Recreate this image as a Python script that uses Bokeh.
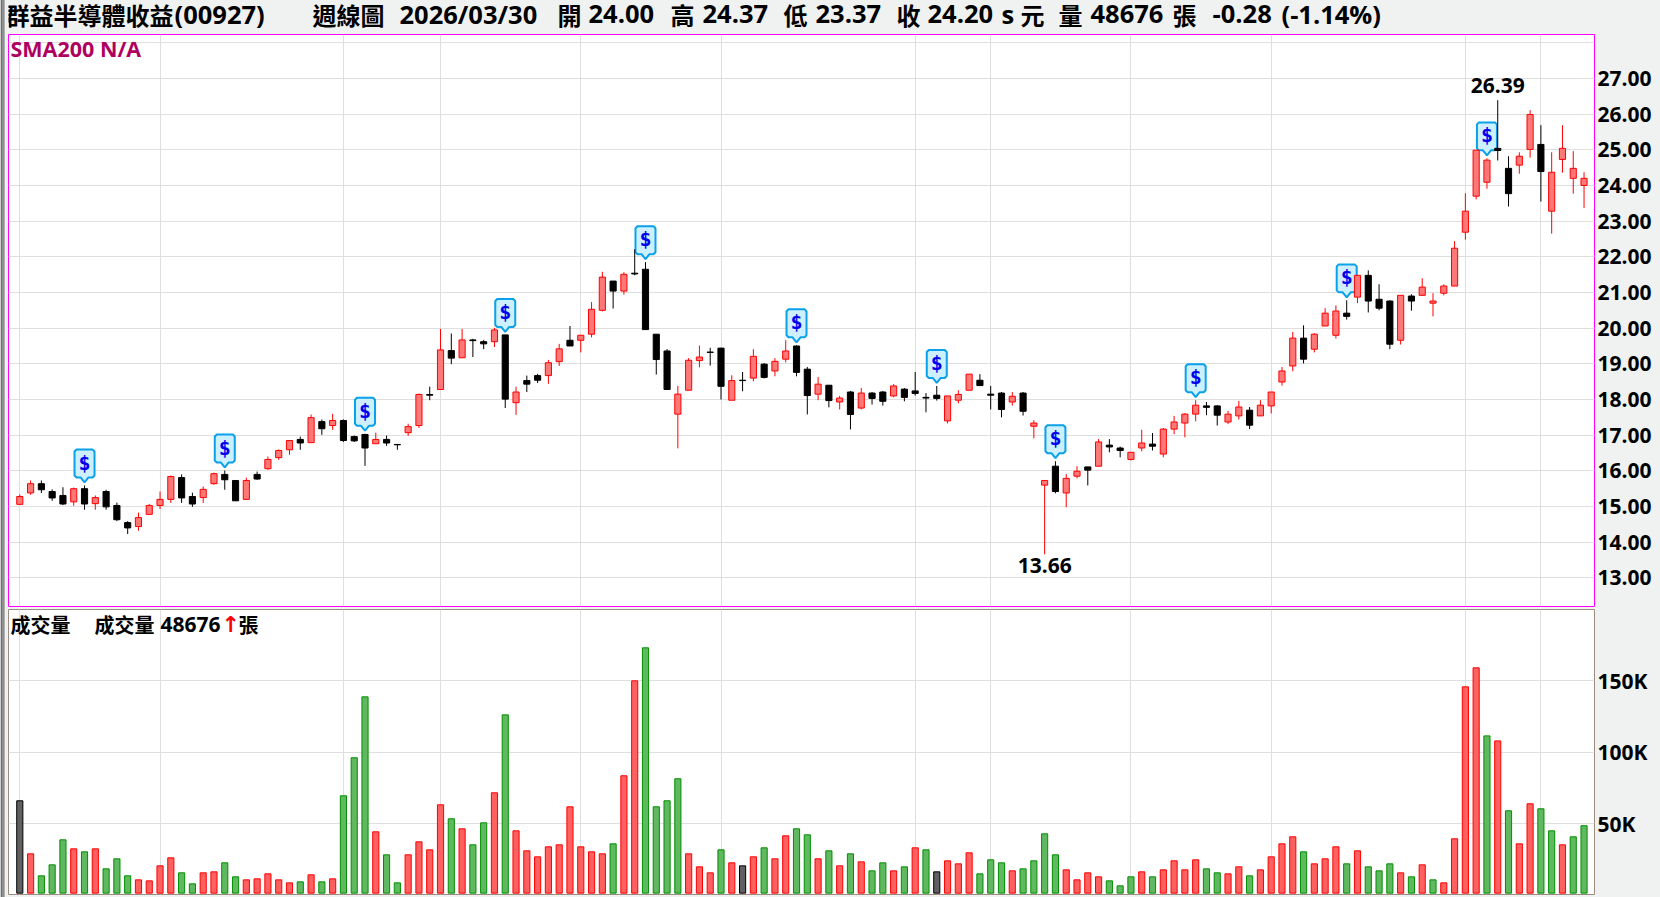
from bokeh.plotting import figure
from bokeh.layouts import column
from bokeh.models import ColumnDataSource, FixedTicker, Grid, Label, NumeralTickFormatter, Range1d
from bokeh.core.properties import value
from bokeh.embed import file_html
from bokeh.resources import INLINE

candle_high = [15.34,15.73,15.73,15.48,15.54,15.53,15.59,15.31,15.47,15.11,14.59,14.83,15.07,15.42,15.87,15.90,15.39,15.56,15.95,16.01,15.73,15.81,15.98,16.40,16.60,16.85,16.96,17.58,17.44,17.60,17.44,16.99,17.04,17.07,16.99,16.74,17.32,18.17,18.36,19.98,19.85,19.98,19.70,19.67,20.01,19.81,18.36,18.67,18.72,19.11,19.56,
20.06,19.80,20.73,21.58,21.32,21.57,22.21,21.85,19.83,19.41,18.38,19.16,19.51,19.45,19.45,18.68,18.77,19.41,19.02,19.16,19.66,19.52,18.91,18.63,18.40,18.10,18.24,18.32,18.21,18.24,18.43,18.32,18.77,18.18,18.38,18.10,18.26,18.71,18.71,18.38,18.21,18.21,18.21,17.42,15.74,16.27,15.91,16.13,16.11,16.89,16.89,
16.68,16.53,17.15,17.06,17.20,17.54,17.62,17.98,17.93,17.84,17.68,17.96,17.79,17.98,18.21,18.91,19.89,20.08,19.86,20.56,20.64,20.78,21.48,21.62,21.23,20.78,20.92,20.95,21.40,20.98,21.23,22.44,23.78,24.99,24.76,26.39,24.82,24.93,26.11,25.69,24.93,25.69,24.96,24.37]
candle_body_top = [15.28,15.64,15.64,15.42,15.31,15.50,15.50,15.25,15.42,15.03,14.55,14.69,15.03,15.20,15.84,15.81,15.28,15.48,15.92,15.90,15.73,15.73,15.90,16.32,16.57,16.85,16.88,17.49,17.38,17.41,17.41,16.96,17.02,16.88,16.88,16.74,17.24,18.14,18.14,19.39,19.37,19.67,19.67,19.62,19.95,19.81,18.21,18.53,18.67,19.03,19.42,
19.66,19.80,20.53,21.43,21.32,21.51,21.54,21.65,19.83,19.36,18.15,19.10,19.19,19.33,19.44,18.53,18.54,19.21,18.99,19.07,19.36,19.50,18.85,18.43,18.40,18.04,18.21,18.18,18.18,18.21,18.38,18.29,18.24,18.06,18.12,18.10,18.14,18.71,18.54,18.15,18.18,18.09,18.18,17.34,15.73,16.13,15.79,15.99,16.11,16.81,16.72,
16.64,16.52,16.78,16.75,17.17,17.37,17.59,17.84,17.82,17.82,17.59,17.79,17.70,17.84,18.21,18.80,19.72,19.72,19.83,20.42,20.48,20.42,21.48,21.48,20.81,20.76,20.92,20.90,21.15,20.76,21.18,22.24,23.28,24.99,24.71,25.04,24.48,24.82,25.99,25.15,24.37,25.04,24.48,24.20]
candle_body_bottom = [15.06,15.38,15.47,15.24,15.07,15.13,15.07,15.08,14.99,14.63,14.40,14.44,14.78,15.03,15.20,15.24,15.07,15.25,15.64,15.75,15.16,15.20,15.77,16.06,16.37,16.59,16.78,16.79,17.18,17.27,16.85,16.84,16.64,16.76,16.78,16.73,17.07,17.27,18.12,18.28,19.16,19.17,19.65,19.56,19.62,18.01,17.91,18.43,18.54,18.67,19.06,
19.50,19.66,19.83,20.50,21.04,21.04,21.52,19.96,19.12,18.28,17.59,18.26,19.09,19.32,18.37,17.98,18.53,18.60,18.62,18.80,19.13,18.76,18.11,18.15,17.97,17.93,17.58,17.76,18.03,17.95,18.10,18.06,18.17,18.04,18.03,17.40,17.98,18.26,18.39,18.12,17.72,17.93,17.67,17.25,15.60,15.42,15.38,15.85,16.02,16.13,16.67,
16.57,16.32,16.64,16.69,16.47,17.17,17.34,17.59,17.78,17.56,17.37,17.54,17.28,17.54,17.82,18.49,18.94,19.13,19.41,20.06,19.80,20.33,20.87,20.76,20.56,19.55,19.66,20.76,20.92,20.70,20.98,21.18,22.69,23.70,24.09,24.98,23.77,24.57,25.01,24.39,23.28,24.73,24.20,24.00]
candle_low = [15.06,15.33,15.38,15.16,15.04,15.02,14.91,14.91,14.91,14.59,14.23,14.32,14.78,14.93,15.10,15.10,14.99,15.10,15.61,15.47,15.16,15.20,15.75,16.03,16.31,16.45,16.59,16.79,17.01,17.15,16.81,16.81,16.14,16.76,16.70,16.59,16.98,17.20,17.98,18.28,18.99,19.17,19.19,19.41,19.47,17.76,17.57,18.21,18.46,18.44,18.94,
19.50,19.32,19.74,20.47,20.55,20.94,21.48,19.96,18.70,18.28,16.63,18.26,18.90,18.95,18.00,17.98,18.23,18.51,18.59,18.65,19.04,18.65,17.58,17.98,17.78,17.72,17.16,17.72,17.86,17.83,18.06,17.95,18.11,17.64,17.97,17.33,17.89,18.26,18.39,17.72,17.50,17.83,17.55,16.91,13.66,15.37,14.98,15.79,15.59,16.13,16.52,
16.38,16.29,16.55,16.57,16.38,17.03,16.94,17.39,17.56,17.27,17.31,17.44,17.17,17.54,17.61,18.39,18.79,19.01,19.32,20.06,19.71,20.24,20.70,20.44,20.50,19.41,19.54,20.49,20.92,20.33,20.92,21.18,22.48,23.61,23.91,24.70,23.41,24.33,24.78,23.55,22.65,24.36,23.77,23.37]
candle_dir = ("rrkkkrkrkk" "krrrrkkrrk" "krkrrrkrkr" "kkkrkkrrkr" "krkkrkrkkr"
              "rkrrrkrkkk" "krrrkkrkrk" "rrkkrkrkrk" "krkkkkrrrk" "kkrkrrkrrk"
              "rkkrrkrrrr" "kkrrkrrrrk" "rrrkrkkkrk" "rrrrrrrkkr" "rkrrrr")
volume_k = [66.1,29.0,13.6,21.3,38.8,32.5,30.4,32.5,18.5,25.5,13.6,10.8,10.1,20.6,26.2,15.7,8.0,15.7,16.4,22.7,12.9,10.8,11.5,15.0,10.8,8.7,9.4,14.3,9.4,11.5,69.6,96.2,138.8,44.4,28.3,8.7,28.3,37.4,31.8,63.3,53.5,46.5,35.3,50.7,71.7,126.2,45.1,31.1,26.9,33.9,35.3,
61.9,33.9,30.4,29.0,36.0,83.6,150.0,173.1,61.9,66.1,81.5,29.0,19.9,15.7,31.8,22.7,20.6,26.9,33.2,25.5,41.6,46.5,42.3,25.5,31.1,20.6,29.0,23.4,17.1,22.7,17.1,19.9,33.2,31.8,16.4,24.1,22.0,29.7,15.0,24.8,22.7,17.1,18.5,24.1,43.0,28.3,17.8,10.8,15.7,12.9,
10.1,6.6,12.9,16.4,12.9,17.8,24.1,17.8,24.8,18.5,15.7,15.0,19.9,13.6,17.8,26.9,36.0,40.9,30.4,22.0,25.5,33.9,22.0,31.1,19.9,17.1,22.0,15.7,12.9,21.3,10.8,8.7,39.5,145.8,159.1,111.5,108.0,59.1,36.0,64.0,60.5,45.1,35.3,40.9,48.676]
volume_dir = ("xrgggrgrgg" "grrrrggrrg" "grrrrrgrgr" "gggrggrrrr" "grggrgrrrr"
              "rrrrrgrrgg" "ggrrrgrxrg" "rrggrgrgrg" "grgrgxrrrg" "ggrggggrrr"
              "rgggrgrrrr" "ggrrgrrrrg" "rrrgrgggrg" "rgrrrrgrgr" "rggrgg")
dividend_idx = [6,19,32,45,58,72,85,96,109,123,136]
price_ticks = list(range(13,28))
price_grid = list(range(13,29))
volume_ticks = [50,100,150]
volume_labels = {50:"50K",100:"100K",150:"150K"}
x_grid_idx = [0,13,30,39,52,65,83,90,103,116,134,141]
title_parts = [("群益半導體收益",6),("(00927)",175),("週線圖",313),("2026/03/30",400),("開",558),("24.00",589),("高",671),("24.37",703),
               ("低",784),("23.37",816),("收",897),("24.20",928),("s",1002),("元",1021),("量",1059),("48676",1091),("張",1173),
               ("-0.28",1213),("(-1.14%)",1282)]

CJK = "Noto Sans CJK TC"
LATIN = "Open Sans"
BG = "#f0f2f2"
PX_X = 10.788   # pixels per candle
PX_Y = 35.73    # pixels per price unit
xr = (-1.047, 145.97)

n = len(candle_high)
xs = list(range(n))

p0 = figure(width=1660, height=34, output_backend="svg", toolbar_location=None,
            x_range=Range1d(0, 1660), y_range=Range1d(0, 34), x_axis_location=None, y_axis_location=None,
            min_border=0, min_border_top=0, min_border_bottom=0, min_border_left=0, min_border_right=0,
            background_fill_color=None, border_fill_color=None, outline_line_color=None)
p0.grid.visible = False
p1 = figure(width=1660, height=574, output_backend="svg", toolbar_location=None,
            x_range=Range1d(*xr), y_range=Range1d(12.197, 28.232), y_axis_location="right",
            x_axis_location=None, min_border_top=0, min_border_bottom=2, min_border_left=8, min_border_right=66,
            background_fill_color="white", border_fill_color=None, outline_line_color="#ff00ff", outline_line_width=1)
p2 = figure(width=1660, height=289, output_backend="svg", toolbar_location=None,
            x_range=Range1d(*xr), y_range=Range1d(0.56, 199.9), y_axis_location="right",
            x_axis_location=None, min_border_top=1, min_border_bottom=3, min_border_left=8, min_border_right=66,
            background_fill_color="white", border_fill_color=None, outline_line_color="#9c8c80", outline_line_width=1)

for p, ticks, grid_vals in ((p1, price_ticks, price_grid), (p2, volume_ticks, volume_ticks)):
    p.grid.visible = False
    p.add_layout(Grid(dimension=0, ticker=FixedTicker(ticks=x_grid_idx), grid_line_color="#dfdfdf", grid_line_width=1))
    p.add_layout(Grid(dimension=1, ticker=FixedTicker(ticks=grid_vals), grid_line_color="#dfdfdf", grid_line_width=1))
    ax = p.yaxis[0]
    ax.ticker = FixedTicker(ticks=ticks)
    ax.axis_line_color = None
    ax.major_tick_line_color = None
    ax.minor_tick_line_color = None
    ax.major_tick_out = 0
    ax.major_tick_in = 0
    ax.major_label_standoff = 3
    ax.major_label_text_font = LATIN
    ax.major_label_text_font_style = "bold"
    ax.major_label_text_font_size = "21px"
    ax.major_label_text_color = "#000000"
p1.yaxis[0].formatter = NumeralTickFormatter(format="0.00")
p2.yaxis[0].major_label_overrides = volume_labels

# dividend markers, drawn below the candles; each is anchored to its candle's high
shape = [(-4,6),(-8,6),(-10,8),(-10,32),(-8,34),(8,34),(10,32),(10,8),(8,6),(4,6),(0,1)]
GAP = 2
mk_x, mk_y, d_x, d_y = [], [], [], []
for i in dividend_idx:
    base = candle_high[i] + GAP / PX_Y
    mk_x.append([i + dx / PX_X for dx, dy in shape])
    mk_y.append([base + dy / PX_Y for dx, dy in shape])
    d_x.append(i)
    d_y.append(base + 21 / PX_Y)
p1.patches(mk_x, mk_y, fill_color="#ccf0ff", line_color="#0aa0ea", line_width=2)
p1.text(d_x, d_y, text=["$"] * len(d_x), text_color="#0000ee", text_align="center", text_baseline="middle",
        text_font=value("DejaVu Sans Mono"), text_font_style="bold", text_font_size="20px")

def subset(flag):
    idx = [i for i in xs if candle_dir[i] == flag]
    return ColumnDataSource(dict(x=idx, h=[candle_high[i] for i in idx], l=[candle_low[i] for i in idx],
                                 t=[candle_body_top[i] for i in idx], b=[candle_body_bottom[i] for i in idx]))
up = subset("r")
dn = subset("k")
BW = 0.57
p1.segment("x", "h", "x", "l", source=up, line_color="#ff0000", line_width=1)
p1.vbar("x", BW, "b", "t", source=up, fill_color="#ff7878", line_color="#ff0000", line_width=1)
p1.segment("x", "h", "x", "l", source=dn, line_color="#000000", line_width=1)
p1.vbar("x", BW, "b", "t", source=dn, fill_color="#000000", line_color="#000000", line_width=1)

# extreme labels
imax = candle_high.index(max(candle_high))
imin = candle_low.index(min(candle_low))
p1.text([imax], [candle_high[imax]], text=[f"{candle_high[imax]:.2f}"], y_offset=-7, text_align="center", text_baseline="bottom",
        text_font=value(LATIN), text_font_style="bold", text_font_size="21px", text_color="#000000")
p1.text([imin], [candle_low[imin]], text=[f"{candle_low[imin]:.2f}"], y_offset=4, text_align="center", text_baseline="top",
        text_font=value(LATIN), text_font_style="bold", text_font_size="21px", text_color="#000000")

# volume bars
V_FILL = {"r": "#ff6060", "g": "#60b860", "x": "#606060"}
V_LINE = {"r": "#ff0000", "g": "#009000", "x": "#000000"}
p2.vbar(xs, BW, bottom=1.5, top=volume_k, fill_color=[V_FILL[c] for c in volume_dir], line_color=[V_LINE[c] for c in volume_dir], line_width=1)

def lab(p, text, x, y_from_frame_bottom, font, size, color="#000000", left=8):
    p.add_layout(Label(x=x - left, y=y_from_frame_bottom, x_units="screen", y_units="screen", text=text, text_font=font,
                       text_font_style="bold", text_font_size=size, text_color=color, text_baseline="middle"))

for t, x in title_parts:
    has_cjk = any(ord(c) > 0x2e80 for c in t)
    lab(p0, t, x, 20.5, CJK if has_cjk else LATIN, "24px" if has_cjk else "25.5px", left=9)
lab(p1, "SMA200 N/A", 10, 606 - 48, LATIN, "21.5px", "#b0005f")
lab(p2, "成交量", 10, 894 - 624, CJK, "20px")
lab(p2, "成交量", 94, 894 - 624, CJK, "20px")
lab(p2, "48676", 160, 894 - 624, LATIN, "21px")
lab(p2, "↑", 221, 894 - 624, "DejaVu Sans", "22px", "#ff0000")
lab(p2, "張", 238, 894 - 624, CJK, "20px")

root = column(p0, p1, p2, spacing=0, width=1660, height=897,
              styles={"position": "absolute", "left": "0", "top": "0",
                      "background": f"linear-gradient(to right,#cfcfcf 0 1px,#6f6f6f 1px 2px,#8f8f8f 2px 4px,#b0b0b0 4px 5px,{BG} 5px)"})
open("out.html", "w").write(file_html(root, INLINE, title="chart"))
